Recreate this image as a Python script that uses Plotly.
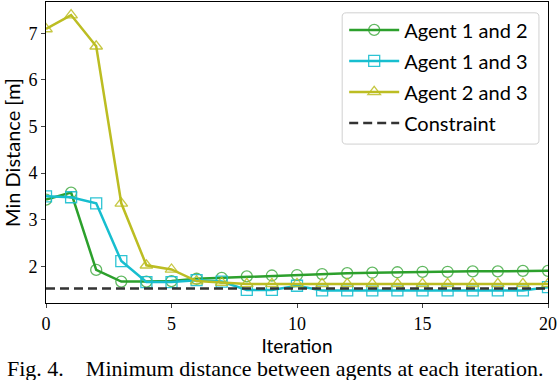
import plotly.graph_objects as go

iterations = list(range(21))
agent12 = [3.43, 3.58, 1.92, 1.67, 1.67, 1.68, 1.73, 1.75, 1.78, 1.80, 1.81,
           1.83, 1.85, 1.86, 1.87, 1.88, 1.88, 1.89, 1.89, 1.90, 1.90]
agent13 = [3.50, 3.48, 3.35, 2.11, 1.66, 1.66, 1.70, 1.67, 1.49, 1.49, 1.58,
           1.48, 1.48, 1.48, 1.48, 1.48, 1.48, 1.48, 1.48, 1.48, 1.55]
agent23 = [7.09, 7.39, 6.72, 3.35, 2.02, 1.93, 1.68, 1.65, 1.62, 1.62, 1.62,
           1.62, 1.62, 1.62, 1.62, 1.62, 1.62, 1.62, 1.62, 1.62, 1.62]
constraint = 1.52

serif = "Liberation Serif"
sans = "Lato"

fig = go.Figure()
series = [
    ("Agent 1 and 2", agent12, "#2ca02c", "rgba(44,160,44,0.75)", "circle-open"),
    ("Agent 1 and 3", agent13, "#17becf", "rgba(23,190,207,0.9)", "square-open"),
    ("Agent 2 and 3", agent23, "#bcbd22", "rgba(188,189,34,0.85)", "triangle-up-open"),
]
for name, vals, col, mcol, sym in series:
    fig.add_trace(go.Scatter(x=iterations, y=vals, name=name, mode="lines+markers",
                             legendgroup=name,
                             line=dict(color=col, width=2.5),
                             marker=dict(symbol=sym, size=11, color=mcol,
                                         line=dict(width=1.3, color=mcol))))
fig.add_trace(go.Scatter(x=[iterations[0], iterations[-1]], y=[constraint, constraint],
                         name="Constraint", mode="lines", legendgroup="c",
                         line=dict(color="#333333", width=2.5, dash="9px,5px")))

# legend frame with rounded corners (matplotlib style)
x0, x1, y0, y1, rx, ry = 0.590, 0.982, 0.528, 0.964, 0.008, 0.013
fig.add_shape(type="path", xref="paper", yref="paper", layer="below",
              path=(f"M {x0+rx} {y0} L {x1-rx} {y0} Q {x1} {y0} {x1} {y0+ry} "
                    f"L {x1} {y1-ry} Q {x1} {y1} {x1-rx} {y1} L {x0+rx} {y1} "
                    f"Q {x0} {y1} {x0} {y1-ry} L {x0} {y0+ry} Q {x0} {y0} {x0+rx} {y0} Z"),
              line=dict(color="#d0d0d0", width=1), fillcolor="white")

fig.update_layout(
    width=560, height=380,
    margin=dict(l=46, r=12, t=2, b=77),
    plot_bgcolor="white", paper_bgcolor="white",
    font=dict(family=serif, size=18, color="black"),
    legend=dict(x=0.594, y=0.972, xanchor="left", yanchor="top",
                bgcolor="rgba(0,0,0,0)", borderwidth=0,
                font=dict(family=sans, size=20), itemwidth=50,
                tracegroupgap=2),
    annotations=[dict(text="Fig. 4.&nbsp;&nbsp;&nbsp; Minimum distance between agents at each iteration.",
                      xref="paper", yref="paper", x=-0.082, y=-0.216, xanchor="left",
                      yanchor="middle", showarrow=False,
                      font=dict(family=serif, size=22))],
)
fig.update_xaxes(range=[0, 20], tickvals=[0, 5, 10, 15, 20], showline=True,
                 linecolor="black", linewidth=1, mirror=True, ticks="outside",
                 ticklen=4, showgrid=False, zeroline=False, automargin=False,
                 title=dict(text="Iteration", font=dict(family=sans, size=19), standoff=1))
fig.update_yaxes(range=[1.21, 7.67], tickvals=[2, 3, 4, 5, 6, 7], showline=True,
                 linecolor="black", linewidth=1, mirror=True, ticks="outside",
                 ticklen=4, showgrid=False, zeroline=False, automargin=False,
                 title=dict(text="Min Distance [m]", font=dict(family=sans, size=20), standoff=6))

fig.write_html("out.html", config={"displayModeBar": False},
               post_script="document.body.style.margin='0px';")
